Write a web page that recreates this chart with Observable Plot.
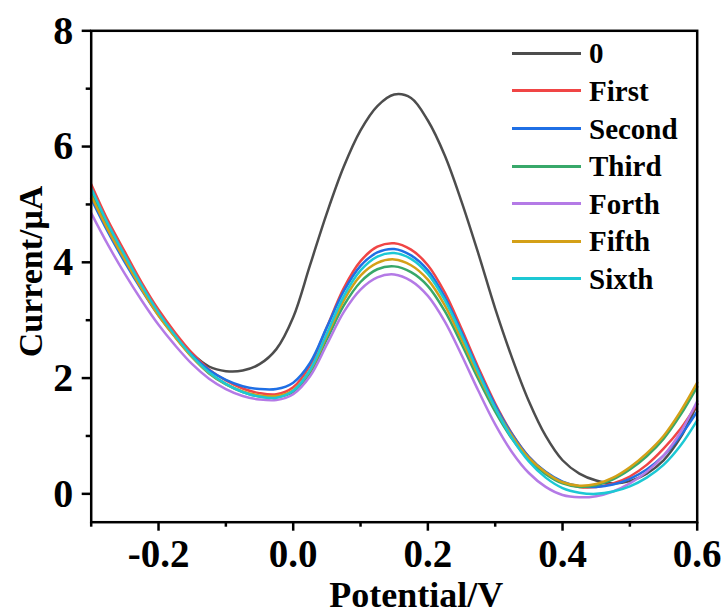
<!DOCTYPE html>
<html><head><meta charset="utf-8">
<script src="https://cdn.jsdelivr.net/npm/d3@7"></script>
<script src="https://cdn.jsdelivr.net/npm/@observablehq/plot@0.6"></script>
<style>
body{margin:0;background:#fff;}
#wrap{position:relative;width:725px;height:614px;font-family:"Liberation Serif","Times New Roman",serif;font-weight:bold;}
#legend{position:absolute;left:0;top:0;width:725px;height:614px;pointer-events:none;}
.row{position:absolute;left:512px;height:38px;display:flex;align-items:center;white-space:nowrap;}
.sw{width:69px;height:3px;}
.lb{margin-left:8px;font-size:29px;line-height:38px;color:#000;}
</style>
</head><body>
<div id="wrap"><div id="legend"></div></div>
<script>
const names = ["0", "First", "Second", "Third", "Forth", "Fifth", "Sixth"];
const colors = ["#4d4d4d", "#f04545", "#1f6fe5", "#38a86a", "#b47ae6", "#d4a017", "#1cc8d4"];
const xs = [-0.3,-0.275,-0.25,-0.225,-0.2,-0.175,-0.15,-0.125,-0.1,-0.075,-0.05,-0.025,0,0.025,0.05,0.075,0.1,0.125,0.15,0.175,0.2,0.225,0.25,0.275,0.3,0.325,0.35,0.375,0.4,0.425,0.45,0.475,0.5,0.525,0.55,0.575,0.6];
const s0 = [5.12,4.56,4.05,3.56,3.12,2.75,2.42,2.2,2.12,2.13,2.24,2.5,3.05,3.95,4.85,5.65,6.28,6.7,6.9,6.84,6.45,5.85,5.05,4.15,3.2,2.35,1.6,1.0,0.58,0.35,0.23,0.18,0.22,0.35,0.58,0.97,1.55];
const s1 = [5.35,4.72,4.18,3.65,3.18,2.78,2.43,2.15,1.96,1.82,1.74,1.72,1.84,2.22,2.88,3.55,4.02,4.27,4.33,4.22,3.95,3.48,2.85,2.18,1.56,1.04,0.64,0.37,0.2,0.12,0.12,0.18,0.3,0.5,0.78,1.12,1.55];
const s2 = [5.1,4.52,4.0,3.52,3.08,2.71,2.39,2.14,1.97,1.86,1.81,1.81,1.92,2.26,2.88,3.5,3.94,4.17,4.23,4.12,3.86,3.4,2.79,2.13,1.53,1.03,0.64,0.38,0.21,0.13,0.12,0.16,0.26,0.42,0.66,1.0,1.42];
const s3 = [5.2,4.6,4.07,3.56,3.1,2.71,2.36,2.08,1.89,1.76,1.68,1.67,1.76,2.09,2.67,3.25,3.66,3.88,3.93,3.83,3.59,3.16,2.59,1.98,1.42,0.95,0.59,0.34,0.18,0.12,0.15,0.25,0.42,0.65,0.95,1.36,1.85];
const s4 = [4.85,4.3,3.8,3.34,2.92,2.56,2.24,1.99,1.81,1.69,1.63,1.62,1.72,2.03,2.58,3.14,3.53,3.74,3.79,3.68,3.42,2.98,2.4,1.78,1.2,0.72,0.36,0.12,-0.02,-0.06,-0.04,0.04,0.18,0.38,0.66,1.06,1.6];
const s5 = [5.15,4.56,4.04,3.54,3.08,2.7,2.36,2.09,1.9,1.77,1.7,1.69,1.79,2.13,2.73,3.34,3.77,3.99,4.05,3.95,3.7,3.26,2.67,2.05,1.48,1.0,0.62,0.37,0.2,0.14,0.17,0.28,0.46,0.7,1.0,1.42,1.92];
const s6 = [5.28,4.66,4.12,3.6,3.13,2.73,2.38,2.1,1.9,1.76,1.68,1.66,1.78,2.14,2.77,3.41,3.86,4.1,4.16,4.06,3.8,3.35,2.75,2.1,1.48,0.96,0.56,0.28,0.1,0.02,0.0,0.04,0.13,0.28,0.5,0.83,1.27];
const xMajor = [-0.2, 0, 0.2, 0.4, 0.6];
const xMinor = [-0.3, -0.1, 0.1, 0.3, 0.5];
const yMajor = [0, 2, 4, 6, 8];
const yMinor = [1, 3, 5, 7];
const xLabel = "Potential/V";
const yLabel = "Current/μA";

const seriesValues = [s0, s1, s2, s3, s4, s5, s6];
const data = [];
names.forEach((n, i) => xs.forEach((x, j) => data.push({series: n, x, y: seriesValues[i][j]})));

const chart = Plot.plot({
  width: 725, height: 614,
  marginLeft: 90.7, marginRight: 28.3, marginTop: 30.3, marginBottom: 92.3,
  style: {fontFamily: "'Liberation Serif', 'Times New Roman', serif", fontWeight: "bold", background: "white", color: "black"},
  x: {domain: [-0.3, 0.6]},
  y: {domain: [-0.49, 8]},
  color: {domain: names, range: colors},
  marks: [
    Plot.line(data, {x: "x", y: "y", z: "series", stroke: "series", strokeWidth: 2.5, curve: "catmull-rom"}),
    Plot.frame({stroke: "black", strokeWidth: 2.5}),
    Plot.axisX(xMajor, {tickSize: 9, tickPadding: 8, tickFormat: d => d.toFixed(1), fontSize: 39, strokeWidth: 2.5, label: null}),
    Plot.axisX(xMinor, {tickSize: 5, tickFormat: () => "", strokeWidth: 2.5, label: null}),
    Plot.axisY(yMajor, {tickSize: 9, tickPadding: 9, tickFormat: d => String(d), fontSize: 40, strokeWidth: 2.5, label: null}),
    Plot.axisY(yMinor, {tickSize: 5, tickFormat: () => "", strokeWidth: 2.5, label: null}),
    Plot.text([xLabel], {text: d => d, frameAnchor: "bottom", lineAnchor: "bottom", textAnchor: "middle", dx: 22, dy: 85, fontSize: 36, fontWeight: "bold"}),
    Plot.text([yLabel], {text: d => d, frameAnchor: "left", textAnchor: "middle", lineAnchor: "middle", dx: -60, dy: -5, rotate: -90, fontSize: 34, fontWeight: "bold"})
  ]
});
document.getElementById("wrap").prepend(chart);

const legend = document.getElementById("legend");
names.forEach((n, i) => {
  const row = document.createElement("div");
  row.className = "row";
  row.style.top = (53.3 + 37.6 * i - 19) + "px";
  const sw = document.createElement("div");
  sw.className = "sw";
  sw.style.background = colors[i];
  const lb = document.createElement("span");
  lb.className = "lb";
  lb.textContent = n;
  row.appendChild(sw); row.appendChild(lb);
  legend.appendChild(row);
});
</script>
</body></html>
